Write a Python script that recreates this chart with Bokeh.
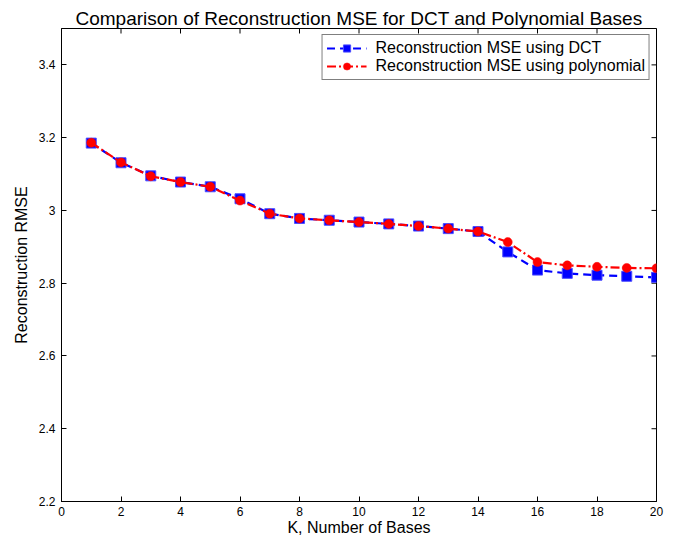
import math
from bokeh.plotting import figure
from bokeh.models import Range1d, FixedTicker, Legend, LegendItem, ColumnDataSource
from bokeh.embed import file_html
from bokeh.resources import INLINE

# ---- data ----
k = [1, 2, 3, 4, 5, 6, 7, 8, 9, 10, 11, 12, 13, 14, 15, 16, 17, 18, 19, 20]
mse_dct = [3.185, 3.131, 3.095, 3.078, 3.065, 3.032, 2.991, 2.978, 2.973, 2.968,
           2.963, 2.957, 2.950, 2.942, 2.886, 2.836, 2.827, 2.822, 2.819, 2.816]
mse_poly = [3.186, 3.132, 3.094, 3.078, 3.065, 3.027, 2.991, 2.978, 2.973, 2.968,
            2.963, 2.957, 2.950, 2.942, 2.913, 2.858, 2.849, 2.845, 2.842, 2.841]
xticks = [0, 2, 4, 6, 8, 10, 12, 14, 16, 18, 20]
yticks = [2.2, 2.4, 2.6, 2.8, 3.0, 3.2, 3.4]
ytick_labels = ["2.2", "2.4", "2.6", "2.8", "3", "3.2", "3.4"]
x_min, x_max = 0, 20
y_min, y_max = 2.2, 3.5
title = "Comparison of Reconstruction MSE for DCT and Polynomial Bases"
xlabel = "K, Number of Bases"
ylabel = "Reconstruction RMSE"
label_dct = "Reconstruction MSE using DCT"
label_poly = "Reconstruction MSE using polynomial"

FONT = "Liberation Sans"

src = ColumnDataSource(dict(k=k, dct=mse_dct, poly=mse_poly))

p = figure(width=678, height=542, output_backend="svg", toolbar_location=None,
           x_range=Range1d(x_min, x_max), y_range=Range1d(y_min, y_max),
           min_border_left=61, min_border_right=22, min_border_top=28,
           min_border_bottom=41, title=title)

p.title.text_font = FONT
p.title.text_font_size = "19px"
p.title.text_font_style = "normal"
p.title.align = "center"
p.title.text_line_height = 0.9
p.title.standoff = 0
p.title.text_color = "black"

p.xgrid.grid_line_color = None
p.ygrid.grid_line_color = None
p.outline_line_color = "black"
p.outline_line_width = 1
p.background_fill_color = "white"
p.border_fill_color = "white"

xa = p.xaxis[0]
xa.ticker = FixedTicker(ticks=xticks)
xa.axis_label = xlabel
ya = p.yaxis[0]
ya.ticker = FixedTicker(ticks=yticks)
ya.major_label_overrides = dict(zip(yticks, ytick_labels))
ya.axis_label = ylabel

for ax in (xa, ya):
    ax.major_tick_in = 5
    ax.major_tick_out = 0
    ax.minor_tick_line_color = None
    ax.axis_line_color = "black"
    ax.major_tick_line_color = "black"
    ax.major_label_text_font = FONT
    ax.major_label_text_font_size = "12px"
    ax.major_label_text_color = "black"
    ax.axis_label_text_font = FONT
    ax.axis_label_text_font_size = "16px"
    ax.axis_label_text_font_style = "normal"
    ax.axis_label_text_color = "black"

xa.major_label_standoff = 5
xa.axis_label_standoff = 0
ya.major_label_standoff = 6
ya.axis_label_standoff = 6

# inward tick marks on the top and right edges of the box (half clipped by the frame)
p.scatter(x=xticks, y=[y_max] * len(xticks), marker="dash", size=10,
          angle=math.pi / 2, line_color="black", line_width=1)
p.scatter(x=[x_max] * len(yticks), y=yticks, marker="dash", size=10,
          line_color="black", line_width=1)

BLUE = "#0000ff"
RED = "#ff0000"

bl = p.line("k", "dct", source=src, line_color=BLUE, line_width=2.2, line_dash="8 5")
bs = p.scatter("k", "dct", source=src, marker="square", size=10,
               fill_color=BLUE, line_color="#4d4dff", line_width=1)
rl = p.line("k", "poly", source=src, line_color=RED, line_width=2.2, line_dash="9 3 2 3")
rc = p.scatter("k", "poly", source=src, marker="circle", size=9,
               fill_color=RED, line_color=RED, line_width=0.5)

legend = Legend(items=[LegendItem(label=label_dct, renderers=[bl, bs]),
                       LegendItem(label=label_poly, renderers=[rl, rc])],
                location="top_right")
legend.margin = 6
legend.padding = 4
legend.spacing = 0
legend.glyph_width = 40
legend.glyph_height = 18
legend.label_height = 18
legend.label_standoff = 9
legend.label_text_font = FONT
legend.label_text_font_size = "16px"
legend.label_text_color = "black"
legend.border_line_color = "black"
legend.border_line_width = 1
legend.background_fill_color = "white"
legend.background_fill_alpha = 1.0
p.add_layout(legend)

open("out.html", "w").write(file_html(p, INLINE))
